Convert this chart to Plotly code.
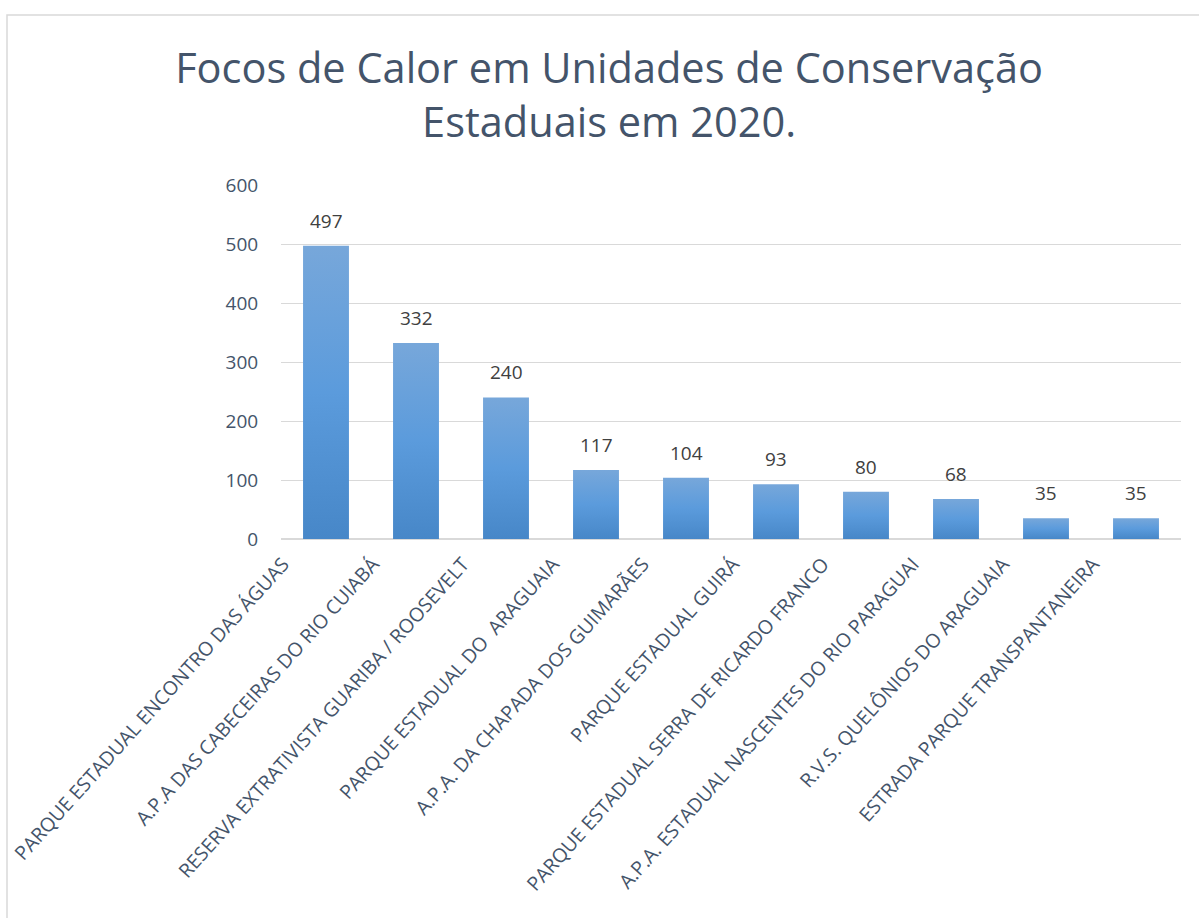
import plotly.graph_objects as go

categories = [
    "PARQUE ESTADUAL ENCONTRO DAS ÁGUAS",
    "A.P.A DAS CABECEIRAS DO RIO CUIABÁ",
    "RESERVA EXTRATIVISTA GUARIBA / ROOSEVELT",
    "PARQUE ESTADUAL DO  ARAGUAIA",
    "A.P.A. DA CHAPADA DOS GUIMARÃES",
    "PARQUE ESTADUAL GUIRÁ",
    "PARQUE ESTADUAL SERRA DE RICARDO FRANCO",
    "A.P.A. ESTADUAL NASCENTES DO RIO PARAGUAI",
    "R.V.S. QUELÔNIOS DO ARAGUAIA",
    "ESTRADA PARQUE TRANSPANTANEIRA",
]
values = [497, 332, 240, 117, 104, 93, 80, 68, 35, 35]
y_ticks = [0, 100, 200, 300, 400, 500, 600]

W, H = 1199, 918
ML, MR, MT, MB = 281, 18, 185, 379
TEXT = "#44546a"
FONT = "Open Sans"
half = 0.255

fig = go.Figure()
for i, v in enumerate(values):
    fig.add_trace(go.Scatter(
        x=[i - half, i + half, i + half, i - half, i - half],
        y=[0, 0, v, v, 0],
        mode="lines", fill="toself", line=dict(width=0),
        fillgradient=dict(type="vertical",
                          colorscale=[[0, "#4787c8"], [0.5, "#5b9bdc"], [1, "#77a7da"]]),
        hoverinfo="skip", showlegend=False,
    ))

for i, v in enumerate(values):
    fig.add_annotation(x=i, y=v, text=str(v), showarrow=False, yanchor="bottom",
                       yshift=10, font=dict(family=FONT, size=19, color="#404040"))

pw = W - ML - MR
ph = H - MT - MB
fig.add_shape(type="rect", xref="paper", yref="paper",
              x0=(7 - ML) / pw, x1=(W + 10 - ML) / pw,
              y0=-(H + 10 - MT - ph) / ph, y1=1 + (MT - 15) / ph,
              line=dict(color="#d9d9d9", width=1.5), fillcolor="rgba(0,0,0,0)", layer="below")

fig.update_layout(
    width=W, height=H,
    margin=dict(l=ML, r=MR, t=MT, b=MB, autoexpand=False),
    paper_bgcolor="white", plot_bgcolor="white",
    title=dict(text="Focos de Calor em Unidades de Conservação<br>Estaduais em 2020.",
               x=0.508, xref="container", xanchor="center",
               y=1 - 83 / H, yref="container", yanchor="middle",
               font=dict(family=FONT, size=41.5, color=TEXT)),
    xaxis=dict(range=[-0.5, 9.5], tickmode="array", tickvals=list(range(len(categories))),
               ticktext=categories, tickangle=-48, showgrid=False, zeroline=False,
               showline=False, ticks="", ticklabelstandoff=9, ticklabelshift=-43,
               automargin=False,
               tickfont=dict(family=FONT, size=19.5, color=TEXT), fixedrange=True),
    yaxis=dict(range=[0, 600], tickmode="array", tickvals=y_ticks, showgrid=True,
               gridcolor="#d9d9d9", gridwidth=1, zeroline=True, zerolinecolor="#d9d9d9",
               zerolinewidth=1.5, ticks="outside", ticklen=18, tickcolor="rgba(0,0,0,0)",
               automargin=False,
               tickfont=dict(family=FONT, size=19, color=TEXT), fixedrange=True),
    showlegend=False,
)

fig.write_html("out.html")
